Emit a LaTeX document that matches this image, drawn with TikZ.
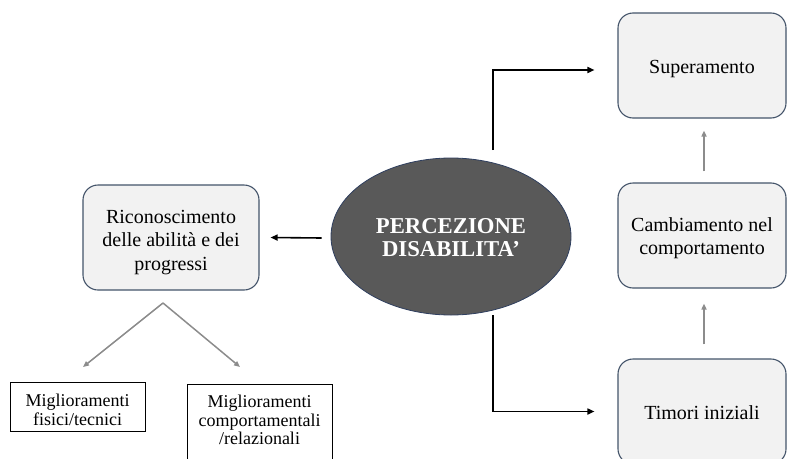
\documentclass[tikz,border=0pt]{standalone}
\usepackage{fontspec}
\setmainfont{Liberation Serif}
\usetikzlibrary{arrows.meta,shapes.geometric}
\definecolor{boxfill}{HTML}{F2F2F2}
\definecolor{boxline}{HTML}{44546A}
\definecolor{ellfill}{HTML}{595959}
\definecolor{ellline}{HTML}{2F3F5F}
\definecolor{linkgray}{HTML}{8C8C8C}
% centred lines of text, pushed down inside their box by half of #1
\newcommand\boxlines[2]{\raisebox{0pt}[\dimexpr\height+#1\relax][\depth]{%
  \begin{tabular}{@{}c@{}}#2\end{tabular}}}
\begin{document}
\begin{tikzpicture}[x=1pt,y=-1pt,
  roundbox/.style={draw=boxline,line width=1.1pt,fill=boxfill,rounded corners=15pt,
    minimum width=#1,minimum height=105pt,inner sep=0pt,
    font=\fontsize{20}{23.5}\selectfont},
  plainbox/.style={draw=black,line width=0.9pt,fill=white,inner sep=0pt,
    font=\fontsize{18}{18.5}\selectfont},
  blk/.style={draw=black,line width=1.6pt,-{Triangle[length=7pt,width=6pt]}},
  gry/.style={draw=linkgray,line width=1.5pt,-{Triangle[length=6pt,width=5pt]}}]
\useasboundingbox (0,0) rectangle (787,458);

% central concept
\node[ellipse,draw=ellline,line width=0.8pt,fill=ellfill,minimum width=240pt,minimum height=157pt,
  inner sep=0pt,text=white,font=\bfseries\fontsize{22.7}{23}\selectfont]
  (ell) at (451,236.5) {\boxlines{7pt}{PERCEZIONE\\DISABILITA’}};

% left branch
\node[roundbox=176pt] (rec) at (171,237.5)
  {\boxlines{9pt}{Riconoscimento\\delle abilità e dei\\progressi}};
\node[plainbox,minimum width=135pt,minimum height=43pt] (fis) at (77.5,406.5)
  {\boxlines{12pt}{Miglioramenti\\fisici/tecnici}};
\node[plainbox,minimum width=145pt,minimum height=77pt] (com) at (259.5,422.5)
  {\boxlines{0pt}{Miglioramenti\\comportamentali\\/relazionali}};

% right column
\node[roundbox=168pt] (sup) at (702,65.5) {\boxlines{6pt}{Superamento}};
\node[roundbox=168pt] (cam) at (702,235.5) {\boxlines{6pt}{Cambiamento nel\\comportamento}};
\node[roundbox=168pt] (tim) at (702,411.5) {\boxlines{6pt}{Timori iniziali}};

% connectors from the centre
\draw[blk] ([xshift=-9pt,yshift=-1.5pt]ell.west) -- ([xshift=11pt]rec.east);
\coordinate (up) at (493,150);
\coordinate (dn) at (493,315);
\draw[blk] (up) |- ([xshift=-23pt,yshift=-4.5pt]sup.west);
\draw[blk] (dn) |- ([xshift=-23pt]tim.west);

% upward progression
\draw[gry] ([xshift=2pt,yshift=11pt]cam.north) -- ([xshift=2pt,yshift=-12pt]sup.south);
\draw[gry] ([xshift=2pt,yshift=14pt]tim.north) -- ([xshift=2pt,yshift=-15pt]cam.south);

% split below the left box
\coordinate (apex) at (163,303);
\coordinate (tipL) at (83,367);
\coordinate (tipR) at (240,367);
\draw[gry] (apex) -- (tipL);
\draw[gry] (apex) -- (tipR);
\end{tikzpicture}
\end{document}
